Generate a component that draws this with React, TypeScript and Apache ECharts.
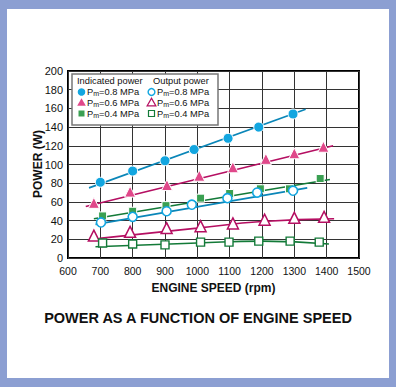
import React, { useEffect, useRef } from "react";
import * as echarts from "echarts";

const xTicks = [600, 700, 800, 900, 1000, 1100, 1200, 1300, 1400, 1500];
const yTicks = [0, 20, 40, 60, 80, 100, 120, 140, 160, 180, 200];

const ind08 = [[700, 81], [800, 93], [900, 104], [990, 116], [1095, 128], [1190, 140], [1296, 154]];
const ind06 = [[680, 59], [792, 71], [906, 78], [1006, 88], [1110, 97], [1212, 106], [1300, 112], [1390, 119]];
const ind04 = [[707, 45], [800, 50], [903, 56], [1010, 64], [1100, 69], [1195, 74], [1285, 74], [1380, 85]];
const out08 = [[702, 38], [800, 44], [905, 50], [983, 57], [1093, 64], [1185, 70], [1296, 72]];
const out06 = [[680, 24], [792, 28], [905, 32], [1010, 34], [1110, 37], [1208, 41], [1300, 43], [1392, 44]];
const out04 = [[707, 16], [800, 15], [900, 14], [1010, 17], [1098, 17], [1190, 18], [1287, 18], [1377, 17]];

const fitInd08 = [[665, 75], [1335, 159]];
const fitInd06 = [[655, 55], [1420, 120]];
const fitInd04 = [[680, 42], [1410, 84]];
const fitOut08 = [[685, 36], [1340, 75]];
const fitOut06 = [[697, 21], [1000, 32], [1200, 39], [1423, 42]];
const fitOut04 = [[685, 12], [1000, 16], [1200, 18], [1407, 15]];

const legendLabels = ["0.8", "0.6", "0.4"];

const BLUE = "#12a6e0";
const BLUE_L = "#0a86b8";
const PINK = "#e0488a";
const PINK_L = "#b50f62";
const GREEN = "#3aa052";
const GREEN_L = "#137a38";
const FONT = "Liberation Sans, Arial, sans-serif";

export default function App() {
  const ref = useRef<HTMLDivElement>(null);
  useEffect(() => {
    document.body.style.margin = "0";
    const chart = echarts.init(ref.current!, null, { renderer: "svg" });
    const fitLine = (data: number[][], color: string, smooth = false) => ({
      type: "line",
      data,
      smooth,
      symbol: "none",
      lineStyle: { color, width: 1.6 },
      z: 2,
      silent: true,
    });
    const pts = (data: number[][], symbol: string, size: number, fill: string, stroke: string, bw: number) => ({
      type: "scatter",
      data,
      symbol,
      symbolSize: size,
      itemStyle: { color: fill, borderColor: stroke, borderWidth: bw, opacity: 1 },
      z: 3,
    });
    const legX1 = 81.5, legX2 = 151.5;
    const rowsY = [92, 102.5, 113.5];
    const legendGraphics: any[] = [
      { type: "rect", shape: { x: 72, y: 74, width: 146, height: 51 }, style: { fill: "#fff", stroke: "#777", lineWidth: 1.5 }, z: 10 },
      { type: "text", x: 77, y: 81, style: { text: "Indicated power", font: `9.3px ${FONT}`, fill: "#111", textVerticalAlign: "middle" }, z: 11 },
      { type: "text", x: 153, y: 81, style: { text: "Output power", font: `9.3px ${FONT}`, fill: "#111", textVerticalAlign: "middle" }, z: 11 },
    ];
    const markers = [
      (x: number, y: number, hollow: boolean) => ({ type: "circle", shape: { cx: x, cy: y, r: hollow ? 3.4 : 3.8 }, style: { fill: hollow ? "#fff" : BLUE, stroke: BLUE, lineWidth: hollow ? 1.4 : 0 }, z: 11 }),
      (x: number, y: number, hollow: boolean) => ({ type: "polygon", shape: { points: [[x, y - 4.2], [x - 4.3, y + 3.3], [x + 4.3, y + 3.3]] }, style: { fill: hollow ? "#fff" : PINK, stroke: hollow ? PINK_L : PINK, lineWidth: hollow ? 1.3 : 0 }, z: 11 }),
      (x: number, y: number, hollow: boolean) => ({ type: "rect", shape: { x: x - 3, y: y - 3, width: 6, height: 6 }, style: { fill: hollow ? "#fff" : GREEN, stroke: hollow ? GREEN_L : GREEN, lineWidth: hollow ? 1.2 : 0 }, z: 11 }),
    ];
    legendLabels.forEach((lab, i) => {
      const y = rowsY[i];
      legendGraphics.push(markers[i](legX1, y, false));
      legendGraphics.push(markers[i](legX2, y, true));
      [87, 157].forEach((tx) => {
        legendGraphics.push({
          type: "text",
          x: tx,
          y,
          style: {
            text: `{p|P}{s|m}{p|=${lab} MPa}`,
            rich: {
              p: { font: `9.3px ${FONT}`, fill: "#111" },
              s: { font: `7px ${FONT}`, fill: "#111", padding: [3, 0, 0, 0] },
            },
            textVerticalAlign: "middle",
          },
          z: 11,
        });
      });
    });
    chart.setOption({
      animation: false,
      grid: { left: 68, right: 37, top: 71, bottom: 129, show: true, borderColor: "#000", borderWidth: 2, backgroundColor: "transparent" },
      xAxis: {
        type: "value",
        min: 600,
        max: 1500,
        interval: 100,
        axisLine: { show: false },
        axisTick: { show: false },
        splitLine: { show: true, lineStyle: { color: "#333", width: 1 } },
        axisLabel: { color: "#111", fontSize: 10.5, fontFamily: FONT, margin: 7, showMaxLabel: true, showMinLabel: true, formatter: (v: number) => String(v) },
        name: "ENGINE SPEED (rpm)",
        nameLocation: "middle",
        nameGap: 24,
        nameTextStyle: { color: "#111", fontSize: 12, fontWeight: "bold", fontFamily: FONT },
      },
      yAxis: {
        type: "value",
        min: 0,
        max: 200,
        interval: 20,
        axisLine: { show: false },
        axisTick: { show: false },
        splitLine: { show: true, lineStyle: { color: "#333", width: 1 } },
        axisLabel: { color: "#111", fontSize: 11, fontFamily: FONT, margin: 5, formatter: (v: number) => String(v) },
      },
      graphic: [
        {
          type: "text",
          x: 37.5,
          y: 164,
          rotation: Math.PI / 2,
          style: { text: "POWER (W)", font: `bold 12px ${FONT}`, fill: "#111", textAlign: "center", textVerticalAlign: "middle" },
        },
        {
          type: "text",
          x: 198,
          y: 318,
          style: { text: "POWER AS A FUNCTION OF ENGINE SPEED", font: `bold 14.5px ${FONT}`, fill: "#111", textAlign: "center", textVerticalAlign: "middle" },
        },
        ...legendGraphics,
      ],
      series: [
        fitLine(fitInd08, BLUE_L),
        fitLine(fitInd06, PINK_L),
        fitLine(fitInd04, GREEN_L),
        fitLine(fitOut08, BLUE_L),
        fitLine(fitOut06, PINK_L, true),
        fitLine(fitOut04, GREEN_L, true),
        pts(ind08, "circle", 10, BLUE, "#fff", 1),
        pts(ind06, "triangle", 11, PINK, "#fff", 1),
        pts(ind04, "rect", 8, GREEN, "#fff", 1),
        pts(out08, "circle", 9, "#fff", BLUE, 1.6),
        pts(out06, "triangle", 11, "#fff", PINK_L, 1.5),
        pts(out04, "rect", 8, "#fff", GREEN_L, 1.4),
      ],
    });
    return () => chart.dispose();
  }, []);
  return (
    <div style={{ position: "relative", width: 396, height: 387, background: "#8c9fd2" }}>
      <div style={{ position: "absolute", left: 7, top: 9, width: 382, height: 369, background: "#fff" }} />
      <div ref={ref} style={{ position: "absolute", left: 0, top: 0, width: 396, height: 387 }} />
    </div>
  );
}
